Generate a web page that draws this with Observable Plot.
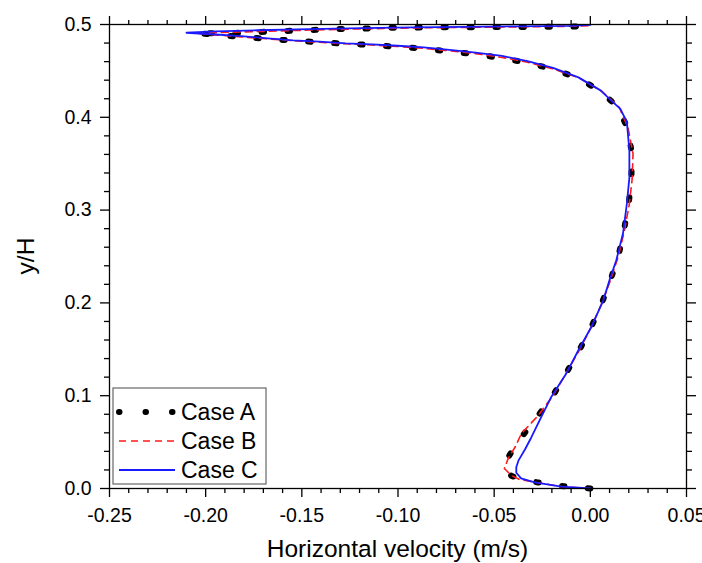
<!DOCTYPE html>
<html><head><meta charset="utf-8">
<script src="https://cdn.jsdelivr.net/npm/d3@7"></script>
<script src="https://cdn.jsdelivr.net/npm/@observablehq/plot@0.6"></script>
<style>body{margin:0;background:#fff}</style>
</head><body><div id="chart"></div>
<script>
// ---- data ----
const caseA_x = [0, -0.014, -0.028, -0.036, -0.041, -0.0445, -0.044, -0.0428, -0.0395, -0.0352, -0.027, -0.0194, -0.013, -0.006, 0.0002, 0.0057, 0.0104, 0.0147, 0.0175, 0.0199, 0.0213, 0.0217, 0.0192, 0.0144, 0.0053, -0.0062, -0.0194, -0.0327, -0.0459, -0.0596, -0.0732, -0.0866, -0.1002, -0.1135, -0.1271, -0.1409, -0.1545, -0.1677, -0.1815, -0.1948, -0.2054, -0.1868, -0.1736, -0.1595, -0.1462, -0.1324, -0.1188, -0.1055, -0.0919, -0.0781, -0.0645, -0.0509, -0.0374, -0.0238, -0.0099, 0];
const caseA_y = [0, 0.0025, 0.0068, 0.0105, 0.0135, 0.021, 0.027, 0.033, 0.045, 0.057, 0.079, 0.1002, 0.1228, 0.148, 0.1727, 0.1983, 0.2241, 0.2511, 0.2787, 0.3057, 0.3326, 0.3607, 0.3887, 0.4109, 0.428, 0.4423, 0.4518, 0.4588, 0.4636, 0.468, 0.4709, 0.4741, 0.476, 0.4778, 0.4793, 0.4808, 0.4826, 0.4845, 0.4866, 0.4892, 0.4906, 0.4908, 0.4918, 0.4929, 0.494, 0.4951, 0.4955, 0.4966, 0.4966, 0.497, 0.497, 0.4973, 0.4973, 0.4977, 0.4977, 0.4985];

const caseB_x = [0, -0.015, -0.028, -0.037, -0.041, -0.0447, -0.0435, -0.0426, -0.039, -0.0359, -0.027, -0.0194, -0.013, -0.006, 0.0002, 0.0057, 0.0104, 0.0147, 0.0178, 0.0202, 0.0217, 0.0222, 0.0196, 0.015, 0.006, -0.006, -0.0194, -0.0327, -0.0459, -0.0596, -0.0732, -0.0866, -0.1002, -0.1135, -0.1271, -0.1409, -0.1545, -0.1677, -0.1815, -0.1948, -0.205, -0.195, -0.1736, -0.146, -0.119, -0.092, -0.0645, -0.0374, -0.0099, 0];
const caseB_y = [0, 0.002, 0.0065, 0.010, 0.014, 0.0216, 0.028, 0.033, 0.045, 0.059, 0.079, 0.100, 0.1228, 0.148, 0.1727, 0.1983, 0.2241, 0.2511, 0.2787, 0.3057, 0.3326, 0.3607, 0.3887, 0.4109, 0.428, 0.4425, 0.4522, 0.4594, 0.4645, 0.4686, 0.4716, 0.4743, 0.4763, 0.4779, 0.4792, 0.4808, 0.4825, 0.4845, 0.4867, 0.4887, 0.4905, 0.4912, 0.4924, 0.494, 0.4953, 0.4963, 0.4969, 0.4975, 0.4981, 0.4988];

const caseC_x = [0, -0.015, -0.029, -0.036, -0.0385, -0.0385, -0.0374, -0.034, -0.0307, -0.026, -0.0205, -0.0125, -0.0062, 0.0005, 0.0068, 0.0099, 0.0135, 0.017, 0.019, 0.0203, 0.0203, 0.019, 0.0156, 0.0109, 0.0053, -0.0062, -0.0194, -0.0327, -0.0459, -0.0596, -0.0732, -0.0866, -0.1002, -0.1135, -0.1271, -0.1409, -0.1545, -0.1677, -0.1815, -0.1948, -0.210, -0.195, -0.173, -0.146, -0.119, -0.092, -0.0645, -0.0374, -0.0099, 0];
const caseC_y = [0, 0.002, 0.0065, 0.011, 0.017, 0.023, 0.030, 0.042, 0.055, 0.075, 0.098, 0.124, 0.149, 0.174, 0.203, 0.224, 0.246, 0.275, 0.307, 0.335, 0.364, 0.395, 0.409, 0.418, 0.429, 0.443, 0.4533, 0.4606, 0.4661, 0.4698, 0.4727, 0.4753, 0.4771, 0.4786, 0.4797, 0.4815, 0.483, 0.4851, 0.4874, 0.4892, 0.4911, 0.4925, 0.4938, 0.495, 0.496, 0.4968, 0.4974, 0.498, 0.4986, 0.4995];

const seriesNames = ["Case A", "Case B", "Case C"];
const xTicks = [-0.25, -0.20, -0.15, -0.10, -0.05, 0.00, 0.05];
const yTicks = [0.0, 0.1, 0.2, 0.3, 0.4, 0.5];
const xMinorTicks = [-0.24,-0.23,-0.22,-0.21,-0.19,-0.18,-0.17,-0.16,-0.14,-0.13,-0.12,-0.11,-0.09,-0.08,-0.07,-0.06,-0.04,-0.03,-0.02,-0.01,0.01,0.02,0.03,0.04];
const yMinorTicks = [0.02,0.04,0.06,0.08,0.12,0.14,0.16,0.18,0.22,0.24,0.26,0.28,0.32,0.34,0.36,0.38,0.42,0.44,0.46,0.48];
const xTitle = "Horizontal velocity (m/s)";
const yTitle = "y/H";

const rows = (xs, ys) => xs.map((x, i) => ({x, y: ys[i]}));
const A = rows(caseA_x, caseA_y), B = rows(caseB_x, caseB_y), C = rows(caseC_x, caseC_y);

const font = "'Liberation Sans', Arial, sans-serif";
const fmtX = d => (Math.abs(d) < 1e-9 ? 0 : d).toFixed(2);
const fmtY = d => (Math.abs(d) < 1e-9 ? 0 : d).toFixed(1);
const blank = () => "";

const styleA = {stroke: "black", strokeWidth: 6, strokeDasharray: "2.5,23.5", strokeLinecap: "round"};
const styleB = {stroke: "#ff1a1a", strokeWidth: 1.6, strokeDasharray: "7,5"};
const styleC = {stroke: "#1a1aff", strokeWidth: 1.8};

const W = 702, H = 563, mL = 109, mR = 16, mT = 24, mB = 75;
const tk = {stroke: "black", strokeWidth: 1.3};

const svg = Plot.plot({
  width: W, height: H,
  marginLeft: mL, marginRight: mR, marginTop: mT, marginBottom: mB,
  style: {fontFamily: font, background: "white", color: "black"},
  x: {domain: [-0.25, 0.05]},
  y: {domain: [0, 0.5]},
  marks: [
    Plot.line(A, {x: "x", y: "y", ...styleA}),
    Plot.line(B, {x: "x", y: "y", ...styleB}),
    Plot.line(C, {x: "x", y: "y", ...styleC}),
    Plot.frame({stroke: "black", strokeWidth: 1.3}),
    Plot.axisX({ticks: xMinorTicks, anchor: "bottom", tickSize: 5, tickFormat: blank, label: null, ...tk}),
    Plot.axisX({ticks: xMinorTicks, anchor: "top", tickSize: 5, tickFormat: blank, label: null, ...tk}),
    Plot.axisY({ticks: yMinorTicks, anchor: "left", tickSize: 5, tickFormat: blank, label: null, ...tk}),
    Plot.axisY({ticks: yMinorTicks, anchor: "right", tickSize: 5, tickFormat: blank, label: null, ...tk}),
    Plot.axisX({ticks: xTicks, anchor: "bottom", tickSize: 9, tickPadding: 11, tickFormat: fmtX, fontSize: 19.5, label: null, ...tk}),
    Plot.axisX({ticks: xTicks, anchor: "top", tickSize: 9, tickFormat: blank, label: null, ...tk}),
    Plot.axisY({ticks: yTicks, anchor: "left", tickSize: 9, tickPadding: 9, tickFormat: fmtY, fontSize: 19.5, label: null, ...tk}),
    Plot.axisY({ticks: yTicks, anchor: "right", tickSize: 9, tickFormat: blank, label: null, ...tk})
  ]
});

const s = d3.select(svg);
s.selectAll("text").attr("fill", "black");
// axis titles
s.append("text").attr("x", (mL + W - mR) / 2).attr("y", 557).attr("text-anchor", "middle")
  .attr("font-family", font).attr("font-size", 24.5).attr("fill", "black").text(xTitle);
s.append("text").attr("transform", `translate(34,${(mT + H - mB) / 2}) rotate(-90)`).attr("text-anchor", "middle")
  .attr("font-family", font).attr("font-size", 24.5).attr("fill", "black").text(yTitle);

// legend
const lg = s.append("g");
lg.append("rect").attr("x", 113).attr("y", 388).attr("width", 153).attr("height", 96)
  .attr("fill", "white").attr("stroke", "#666").attr("stroke-width", 1.2);
const styles = [styleA, styleB, styleC];
seriesNames.forEach((name, i) => {
  const yy = 412 + i * 29;
  const st = styles[i];
  const ln = lg.append("line").attr("x1", 119).attr("x2", 175).attr("y1", yy).attr("y2", yy)
    .attr("stroke", st.stroke).attr("stroke-width", st.strokeWidth);
  if (i === 0) ln.attr("stroke-dasharray", "0.5,26").attr("stroke-linecap", "round").attr("x2", 176);
  if (st.strokeDasharray && i !== 0) ln.attr("stroke-dasharray", st.strokeDasharray);
  lg.append("text").attr("x", 181).attr("y", yy).attr("dy", "0.36em").attr("text-anchor", "start")
    .attr("font-family", font).attr("font-size", 23).attr("fill", "black").text(name);
});

document.getElementById("chart").appendChild(svg);
</script>
</body></html>
